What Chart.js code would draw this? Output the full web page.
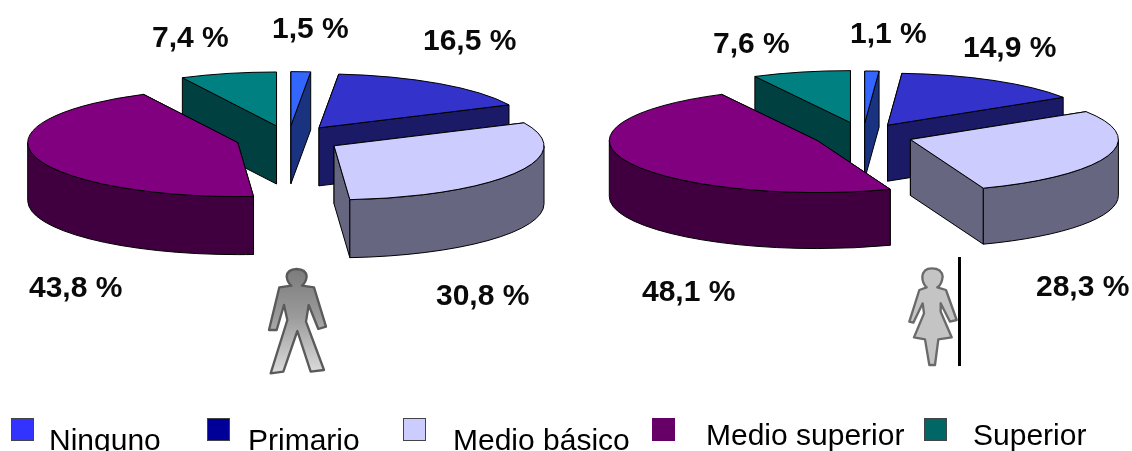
<!DOCTYPE html>
<html lang="es">
<head>
<meta charset="utf-8">
<title>Escolaridad</title>
<script src="https://cdn.jsdelivr.net/npm/chart.js@4"></script>
<style>
html,body{margin:0;padding:0;background:#fff;width:1132px;height:451px;overflow:hidden;font-family:"Liberation Sans",Arial,sans-serif;}
#stage{position:relative;width:1132px;height:451px;overflow:hidden;}
canvas{position:absolute;top:0;}
.t{position:absolute;white-space:nowrap;line-height:30px;font-size:30px;color:#000;}
.pct{font-weight:bold;color:#0a0a0a;}
.sw{position:absolute;width:23px;height:23px;box-sizing:border-box;}
svg{position:absolute;}
</style>
</head>
<body>
<div id="stage">
  <canvas id="men" width="580" height="451" style="left:0;width:580px;height:451px"></canvas>
  <canvas id="women" width="552" height="451" style="left:580px;width:552px;height:451px"></canvas>

  <svg style="left:250px;top:255px;filter:blur(.7px)" width="100" height="125" viewBox="0 0 300 375">
    <defs><linearGradient id="gm" x1="0" y1="0" x2="0" y2="1"><stop offset="0" stop-color="#7c7c7c"/><stop offset=".45" stop-color="#9a9a9a"/><stop offset="1" stop-color="#dcdcdc"/></linearGradient></defs>
    <path d="M110 64 Q112 43 140 42 Q168 43 170 64 Q168 82 156 92 L192 97 L228 215 L205 222 L176 150 L168 200 L222 345 L182 350 L142 228 L100 350 L62 355 L112 195 L102 150 L80 225 L57 225 L88 97 L124 92 Q112 82 110 64 Z" fill="url(#gm)" stroke="#5a5a5a" stroke-width="7" stroke-linejoin="round"/>
  </svg>
  <svg style="left:890px;top:250px;filter:blur(.7px)" width="90" height="125" viewBox="0 0 270 375">
    <path d="M97 80 Q100 55 125 55 Q155 55 158 80 Q155 105 142 112 L168 120 L200 210 L180 215 L152 160 L152 185 L185 262 L145 268 L135 345 L118 345 L105 268 L72 262 L102 190 L98 160 L70 218 L58 215 L88 120 L110 112 Q97 100 97 80 Z" fill="#c4c4c4" stroke="#6a6a6a" stroke-width="7" stroke-linejoin="round"/>
  </svg>
  <div style="position:absolute;left:958px;top:257px;width:3px;height:109px;background:#000"></div>
</div>

<script>
const categories = ["Ninguno", "Primario", "Medio básico", "Medio superior", "Superior"];
const hombres = [1.5, 16.5, 30.8, 43.8, 7.4];
const mujeres = [1.1, 14.9, 28.3, 48.1, 7.6];

const faceColors = ["#3366FF", "#3333CC", "#CCCCFF", "#800080", "#008080"];
const wallColors = ["#1A3380", "#1A1A66", "#666680", "#400040", "#004040"];
const legendColors = ["#3333FF", "#000099", "#CCCCFF", "#660066", "#006666"];

const pie3d = {
  id: "pie3d",
  afterDatasetsUpdate(chart, args, o) {
    chart.getDatasetMeta(0).data.forEach((arc, i) => {
      const mid = (arc.startAngle + arc.endAngle) / 2;
      arc.x += Math.cos(mid) * o.explode[i];
      arc.y += Math.sin(mid) * o.explode[i];
    });
  },
  beforeDatasetsDraw(chart, args, o) {
    const ctx = chart.ctx, cy = (chart.chartArea.top + chart.chartArea.bottom) / 2;
    const arcs = chart.getDatasetMeta(0).data.map((a, i) => ({a, i})).sort((p, q) => p.a.y - q.a.y);
    ctx.save();
    ctx.lineWidth = 1;
    ctx.strokeStyle = "#000";
    ctx.lineJoin = "round";
    for (const {a, i} of arcs) {
      const X = a.x, Y = cy + (a.y - cy) * o.tilt, R = a.outerRadius, Ry = R * o.tilt, D = o.depth;
      ctx.fillStyle = wallColors[i];
      for (const ang of [a.startAngle, a.endAngle]) {
        const ex = X + R * Math.cos(ang), ey = Y + Ry * Math.sin(ang);
        ctx.beginPath();
        ctx.moveTo(X, Y); ctx.lineTo(ex, ey); ctx.lineTo(ex, ey + D); ctx.lineTo(X, Y + D); ctx.closePath();
        ctx.fill(); ctx.stroke();
      }
      const a0 = Math.max(a.startAngle, 0), a1 = Math.min(a.endAngle, Math.PI);
      if (a1 > a0) {
        ctx.beginPath();
        ctx.ellipse(X, Y, R, Ry, 0, a0, a1);
        ctx.lineTo(X + R * Math.cos(a1), Y + Ry * Math.sin(a1) + D);
        ctx.ellipse(X, Y + D, R, Ry, 0, a1, a0, true);
        ctx.closePath();
        ctx.fill(); ctx.stroke();
      }
    }
    ctx.restore();
    ctx.save();
    ctx.translate(0, cy);
    ctx.scale(1, o.tilt);
    ctx.translate(0, -cy);
  },
  afterDatasetsDraw(chart, args, o) {
    const ctx = chart.ctx, cy = (chart.chartArea.top + chart.chartArea.bottom) / 2;
    ctx.restore();
    ctx.save();
    ctx.lineWidth = 1;
    ctx.strokeStyle = "#000";
    ctx.lineJoin = "round";
    chart.getDatasetMeta(0).data.forEach(a => {
      const X = a.x, Y = cy + (a.y - cy) * o.tilt, R = a.outerRadius;
      ctx.beginPath();
      ctx.moveTo(X, Y);
      ctx.ellipse(X, Y, R, R * o.tilt, 0, a.startAngle, a.endAngle);
      ctx.closePath();
      ctx.stroke();
    });
    ctx.restore();
  }
};

function makePie(id, values, radius, padding, plug) {
  return new Chart(document.getElementById(id), {
    type: "pie",
    data: {
      labels: categories,
      datasets: [{ data: values, backgroundColor: faceColors, borderWidth: 0, clip: false }]
    },
    options: {
      responsive: false,
      animation: false,
      radius: radius,
      layout: { padding: padding },
      plugins: { legend: { display: false }, tooltip: { enabled: false }, pie3d: plug }
    },
    plugins: [pie3d]
  });
}
makePie("men", hombres, 210, { left: 0, top: 0, right: 3, bottom: 173 },
  { tilt: 54 / 210, depth: 58, explode: [52, 53, 52.7, 52.7, 52] });
makePie("women", mujeres, 208, { left: 14, top: 0, right: 0, bottom: 180 },
  { tilt: 52 / 208, depth: 56, explode: [50, 48, 50, 50, 53] });

const stage = document.getElementById("stage");
const fmt = v => v.toFixed(1).replace(".", ",") + " %";
function text(str, x, base, cls) {
  const d = document.createElement("div");
  d.className = "t " + cls;
  d.textContent = str;
  d.style.left = x + "px";
  d.style.top = (base - 25.4) + "px";
  stage.appendChild(d);
}
const menLabelPos = [[272, 38], [423, 50], [436, 305], [29, 297], [152, 47]];
const womenLabelPos = [[850, 43], [963, 57], [1036, 296], [642, 301], [713, 53]];
hombres.forEach((v, i) => text(fmt(v), menLabelPos[i][0], menLabelPos[i][1], "pct"));
mujeres.forEach((v, i) => text(fmt(v), womenLabelPos[i][0], womenLabelPos[i][1], "pct"));

const swatchX = [11, 207, 403, 652, 924];
const legendX = [49, 248, 453, 706, 973];
const legendBase = [450, 450, 450, 445, 445];
categories.forEach((c, i) => {
  const s = document.createElement("div");
  s.className = "sw";
  s.style.left = swatchX[i] + "px";
  s.style.top = "418px";
  s.style.background = legendColors[i];
  if (i !== 3) s.style.border = "1px solid #444";
  stage.appendChild(s);
  text(c, legendX[i], legendBase[i], "");
});
</script>
</body>
</html>
